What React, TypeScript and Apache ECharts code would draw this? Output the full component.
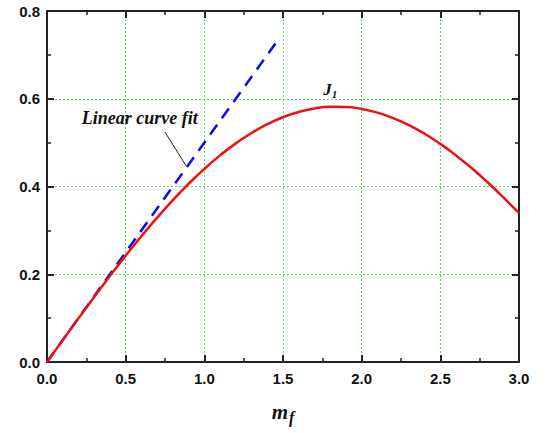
import React, { useEffect, useRef } from "react";
import * as echarts from "echarts";

const xValues = [0, 0.1, 0.2, 0.3, 0.4, 0.5, 0.6, 0.7, 0.8, 0.9, 1.0, 1.1, 1.2, 1.3, 1.4, 1.5, 1.6, 1.7, 1.8, 1.9, 2.0, 2.1, 2.2, 2.3, 2.4, 2.5, 2.6, 2.7, 2.8, 2.9, 3.0];
const j1Values = [0, 0.0499, 0.0995, 0.1483, 0.196, 0.2423, 0.2867, 0.329, 0.3688, 0.4059, 0.4401, 0.4709, 0.4983, 0.522, 0.5419, 0.5579, 0.5699, 0.5778, 0.5815, 0.5812, 0.5767, 0.5683, 0.556, 0.5399, 0.5202, 0.4971, 0.4708, 0.4416, 0.4097, 0.3754, 0.3391];
const fitX = [0, 1.48];
const fitY = [0, 0.74];
const pointerLine = [[0.75, 0.524], [0.884, 0.447]];
const fitLabelPos = [0.59, 0.556];
const j1LabelPos = [1.8, 0.62];

const serif = "Liberation Serif, Times New Roman, serif";
const sans = "Arial, Liberation Sans, sans-serif";

function frameAxis(extra: any) {
  return {
    type: "value",
    axisLine: { show: true, onZero: false, lineStyle: { color: "#222", width: 2 } },
    axisTick: { show: true, inside: true, length: 7, lineStyle: { color: "#222", width: 2 } },
    minorTick: { show: true, splitNumber: 2, length: 4, lineStyle: { color: "#222", width: 1.5 } },
    ...extra,
  };
}

export default function App() {
  const ref = useRef<HTMLDivElement>(null);
  useEffect(() => {
    if (!ref.current) return;
    const chart = echarts.init(ref.current, undefined, { renderer: "svg" });
    const grid = { color: "#5fd35f", type: [2, 2], width: 1 };
    chart.setOption({
      animation: false,
      grid: { left: 47, right: 27, top: 11, bottom: 71, containLabel: false, outerBoundsMode: "none" },
      xAxis: [
        frameAxis({
          min: 0, max: 3, interval: 0.5, position: "bottom",
          splitLine: { show: true, lineStyle: grid },
          axisLabel: { margin: 9, fontFamily: sans, fontWeight: "bold", fontSize: 15, color: "#111", formatter: (v: number) => v.toFixed(1) },
          name: "m", nameLocation: "middle", nameGap: 42,
          nameTextStyle: { fontSize: 1, color: "rgba(0,0,0,0)" },
        }),
        frameAxis({
          min: 0, max: 3, interval: 0.5, position: "top",
          splitLine: { show: false }, axisLabel: { show: false },
        }),
      ],
      yAxis: [
        frameAxis({
          min: 0, max: 0.8, interval: 0.2, position: "left",
          splitLine: { show: true, lineStyle: grid },
          axisLabel: { margin: 7, fontFamily: sans, fontWeight: "bold", fontSize: 15, color: "#111", formatter: (v: number) => v.toFixed(1) },
        }),
        frameAxis({
          min: 0, max: 0.8, interval: 0.2, position: "right",
          splitLine: { show: false }, axisLabel: { show: false },
        }),
      ],
      series: [
        {
          type: "line", name: "fit", data: fitX.map((x, i) => [x, fitY[i]]),
          showSymbol: false, symbol: "none",
          lineStyle: { color: "#0a0aee", width: 2.5, type: [12, 8] },
          z: 2,
        },
        {
          type: "line", name: "J1", data: xValues.map((x, i) => [x, j1Values[i]]),
          showSymbol: false, symbol: "none", smooth: true,
          lineStyle: { color: "#ee1111", width: 2.5 },
          z: 3,
        },
      ],
    });
    const px = (p: number[]) => chart.convertToPixel({ gridIndex: 0 }, p) as number[];
    const a = px(pointerLine[0]);
    const b = px(pointerLine[1]);
    const f = px(fitLabelPos);
    const j = px(j1LabelPos);
    const o = px([1.5, 0]);
    chart.setOption({
      graphic: [
        { type: "line", silent: true, shape: { x1: a[0], y1: a[1], x2: b[0], y2: b[1] }, style: { stroke: "#222", lineWidth: 1 } },
        {
          type: "text", silent: true, x: f[0], y: f[1],
          style: { text: "Linear curve fit", font: `italic bold 18px ${serif}`, fill: "#111", align: "center", verticalAlign: "middle" },
        },
        {
          type: "text", silent: true, x: j[0], y: j[1],
          style: {
            text: "{j|J}{s|1}", align: "center", verticalAlign: "middle",
            rich: {
              j: { fontFamily: serif, fontStyle: "italic", fontWeight: "bold", fontSize: 17, fill: "#111" },
              s: { fontFamily: serif, fontStyle: "italic", fontWeight: "bold", fontSize: 11, fill: "#111", padding: [8, 0, 0, 0] },
            },
          },
        },
        {
          type: "text", silent: true, x: o[0], y: o[1] + 50,
          style: {
            text: "{m|m}{f|f}", align: "center", verticalAlign: "middle",
            rich: {
              m: { fontFamily: serif, fontStyle: "italic", fontWeight: "bold", fontSize: 21, fill: "#111" },
              f: { fontFamily: serif, fontStyle: "italic", fontWeight: "bold", fontSize: 16, fill: "#111", padding: [10, 0, 0, 1] },
            },
          },
        },
      ],
    });
    return () => chart.dispose();
  }, []);
  return <div ref={ref} style={{ width: 546, height: 433, position: "absolute", left: 0, top: 0 }} />;
}
